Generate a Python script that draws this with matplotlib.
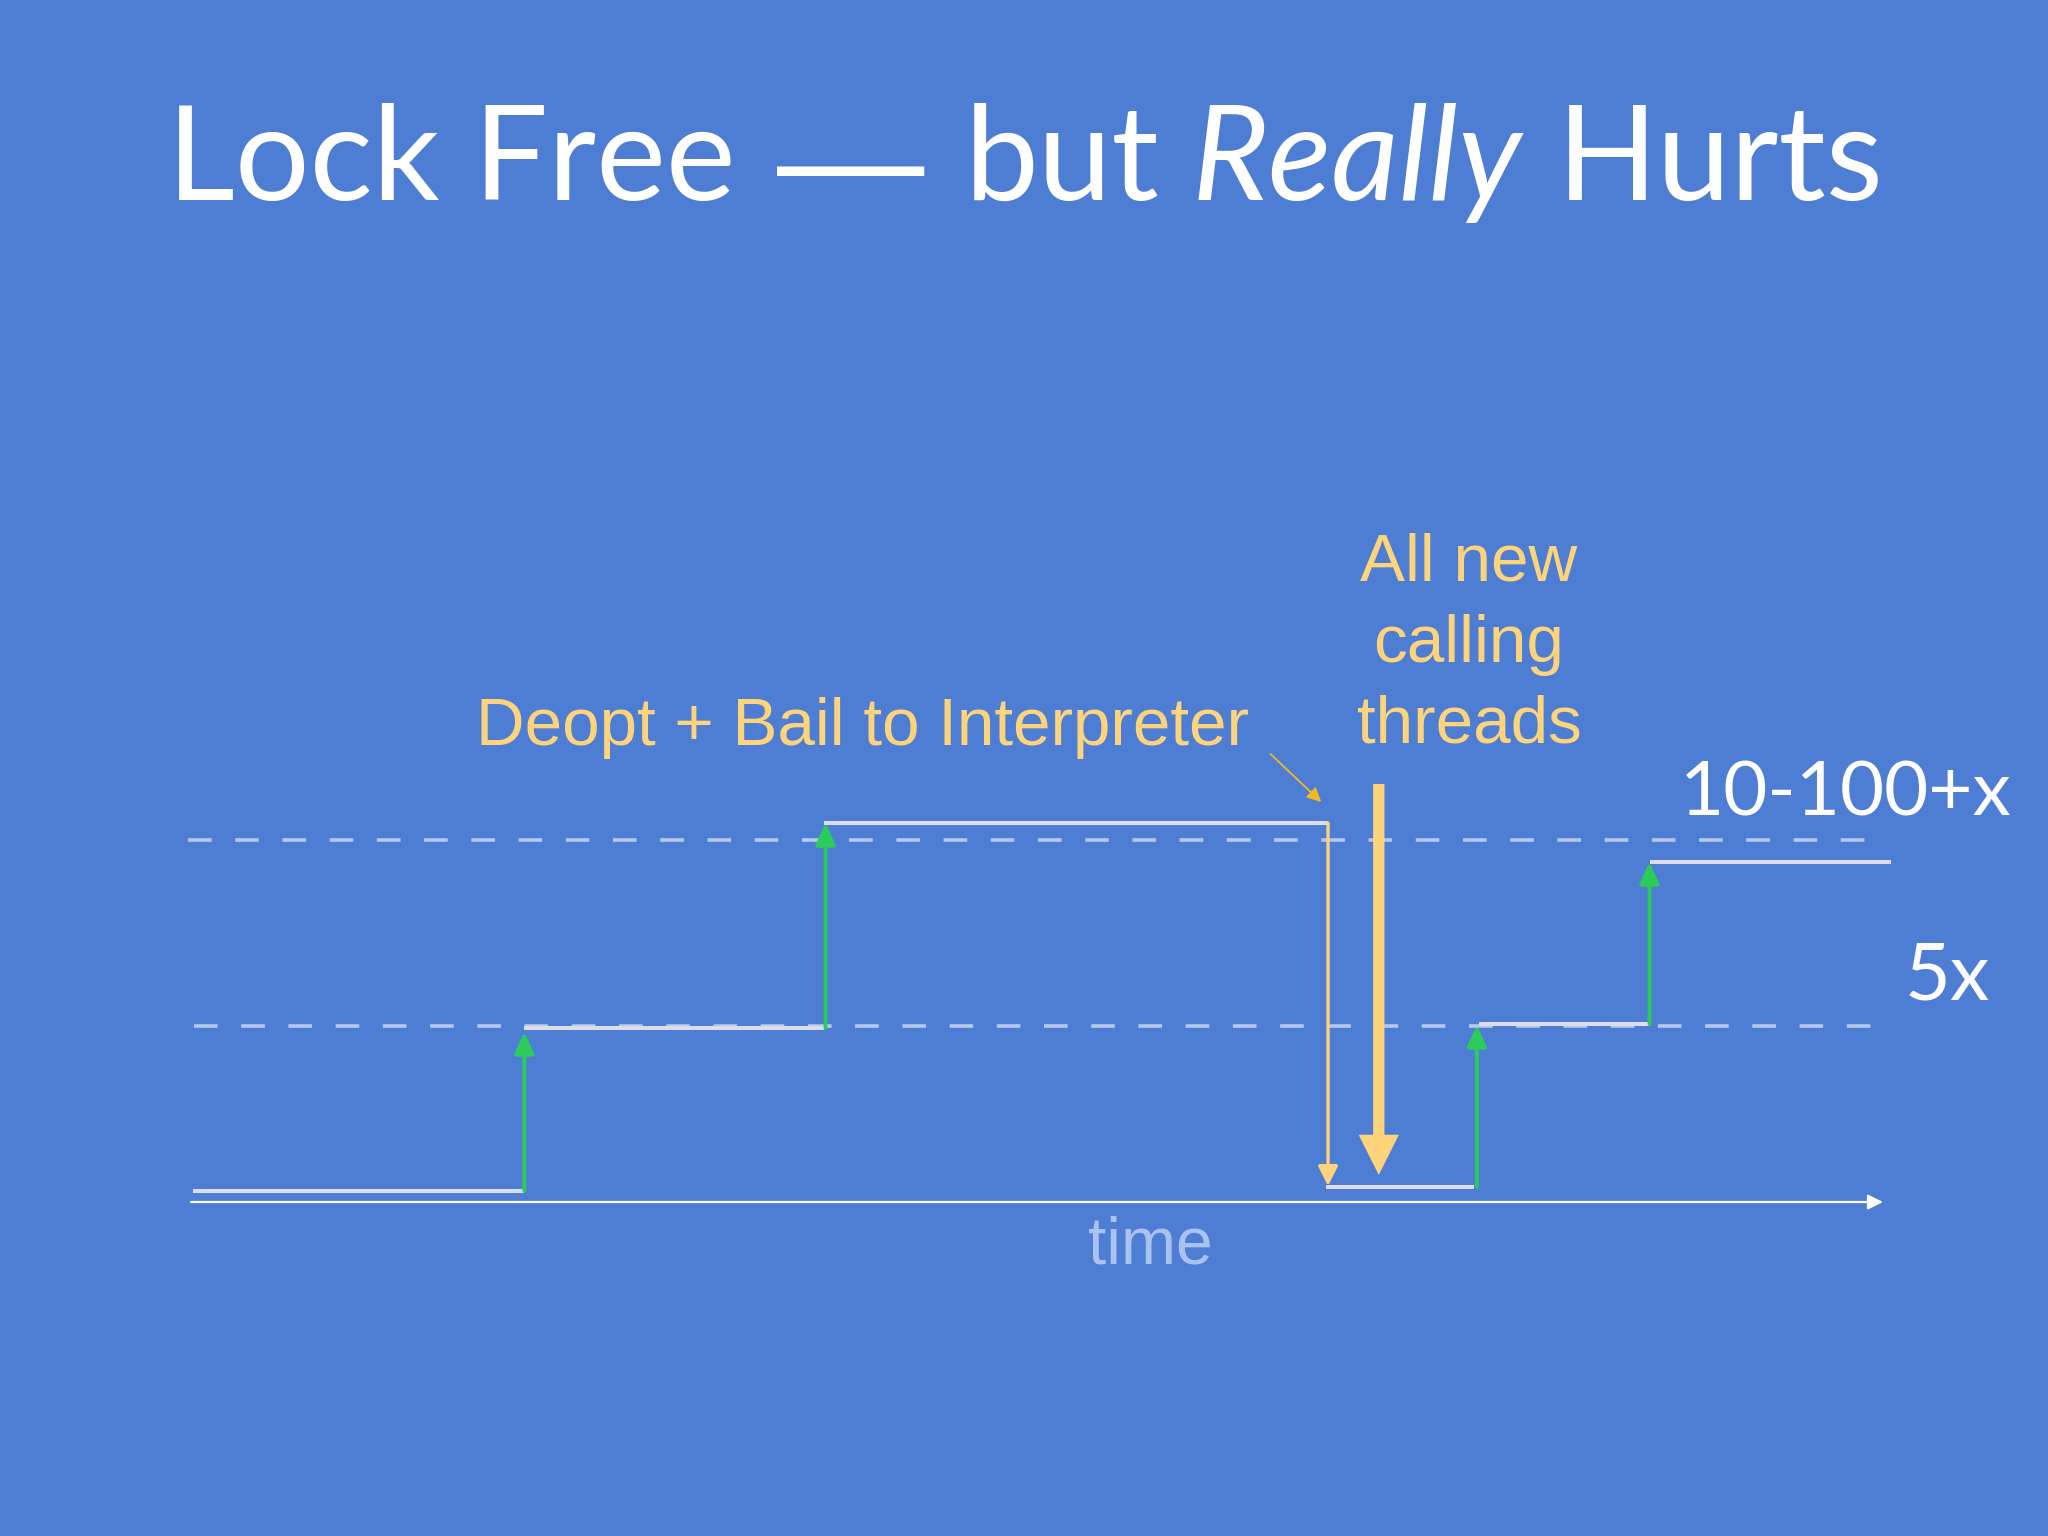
import matplotlib
matplotlib.use("Agg")
import matplotlib.pyplot as plt

# ---------------- data ----------------
# step segments of the "cost" trace (time units 0..100, level units)
seg_t0 = [0.1, 19.7, 37.4, 67.1, 76.1, 86.2]
seg_t1 = [19.7, 37.4, 67.2, 75.8, 86.2, 100.5]
seg_level = [1.1, 17.4, 37.9, 1.5, 17.8, 34.0]

# green "step up" arrows
up_t = [19.7, 37.5, 76.0, 86.2]
up_from = [1.1, 17.4, 1.5, 17.8]
up_to = [17.0, 37.9, 17.7, 34.0]

# dashed reference levels (10-100+x, 5x)
ref_levels = [36.2, 17.6]
ref_t0 = [-0.2, 0.2]
ref_t1 = [99.9, 99.9]
ref_labels = ["10-100+x", "5x"]

# yellow drops
drop_t = [67.2]
drop_from = [37.9]
drop_to = [1.6]
big_drop_t = [70.2]
big_drop_from = [41.8]
big_drop_to = [2.7]
pointer_from = (63.8, 44.8)
pointer_to = (66.8, 40.0)

title_words = ["Lock Free", "—", "but", "Really", "Hurts"]
title_italic = [False, False, False, True, False]
deopt_label = "Deopt + Bail to Interpreter"
threads_label = ["All new", "calling", "threads"]
axis_label = "time"

# ---------------- style ----------------
BG = "#4e7dd4"
STEP = "#dcdde8"
DASH = "#b6c8ee"
GREEN = "#2bcb5c"
YEL = "#fdd47c"
ORANGE = "#f2b824"
W, H = 2048, 1536
DPI = 100

plt.rcParams["lines.scale_dashes"] = False
fig = plt.figure(figsize=(W / DPI, H / DPI), dpi=DPI, facecolor=BG)
ax = fig.add_axes([0, 0, 1, 1])
ax.set_facecolor(BG)
ax.set_axis_off()
# x: time 0 at 191 px, 100 at 1883 px ; y: 0 at 1202 px from top, 10 px per unit
xs = (1883 - 191) / 100.0
ax.set_xlim(-191 / xs, (W - 191) / xs)
ax.set_ylim(-(H - 1202) / 10.0, 1202 / 10.0)

# dashed reference lines
for lv, a, b in zip(ref_levels, ref_t0, ref_t1):
    ax.plot([a, b], [lv, lv], color=DASH, lw=2.6, dashes=(17, 17), solid_capstyle="butt", zorder=1)

# time axis
ax.annotate("", xy=(100, 0), xytext=(0, 0),
            arrowprops=dict(arrowstyle="-|>,head_length=0.5,head_width=0.25", mutation_scale=18,
                            lw=1.6, color="white", shrinkA=0, shrinkB=0), zorder=2)

# step trace
for a, b, lv in zip(seg_t0, seg_t1, seg_level):
    ax.plot([a, b], [lv, lv], color=STEP, lw=2.9, solid_capstyle="butt", zorder=3)

# green up arrows
for t, a, b in zip(up_t, up_from, up_to):
    ax.annotate("", xy=(t, b), xytext=(t, a),
                arrowprops=dict(arrowstyle="-|>,head_length=0.65,head_width=0.3", mutation_scale=20,
                                lw=2.8, color=GREEN, shrinkA=0, shrinkB=0), zorder=4)

# thin yellow drop
for t, a, b in zip(drop_t, drop_from, drop_to):
    ax.annotate("", xy=(t, b), xytext=(t, a),
                arrowprops=dict(arrowstyle="-|>,head_length=0.6,head_width=0.3", mutation_scale=20,
                                lw=2.4, color=YEL, shrinkA=0, shrinkB=0), zorder=4)

# big yellow drop
for t, a, b in zip(big_drop_t, big_drop_from, big_drop_to):
    ax.annotate("", xy=(t, b), xytext=(t, a),
                arrowprops=dict(arrowstyle="simple,head_length=1.0,head_width=1.0,tail_width=0.28",
                                mutation_scale=29, lw=0, color=YEL, shrinkA=0, shrinkB=0), zorder=4)

# small pointer arrow
ax.annotate("", xy=pointer_to, xytext=pointer_from,
            arrowprops=dict(arrowstyle="-|>,head_length=0.6,head_width=0.3", mutation_scale=14,
                            lw=1.3, color=ORANGE, shrinkA=0, shrinkB=0), zorder=4)

def fx(px):
    return px / W

def fy(py):
    return 1 - py / H

# text labels
sans = ["Liberation Sans", "DejaVu Sans"]
gill = ["Lato", "DejaVu Sans"]
fig.text(fx(863), fy(745), deopt_label, color=YEL, fontsize=48.5, family=sans, ha="center", va="baseline")
for i, line in enumerate(threads_label):
    fig.text(fx(1469), fy(580 + 81.5 * i), line, color=YEL, fontsize=48.5, family=sans,
             ha="center", va="baseline")
fig.text(fx(1150), fy(1263), axis_label, color="#a9c2f0", fontsize=47.5, family=sans,
         ha="center", va="baseline")
fig.text(fx(1846), fy(815), ref_labels[0], color="white", fontsize=55, family=gill, ha="center", va="baseline")
fig.text(fx(1947), fy(999), ref_labels[1], color="white", fontsize=57, family=gill, ha="center", va="baseline")

# title, word by word (italic "Really")
word_cx = [451, 851, 1062, 1357, 1720]
for word, ital, cx in zip(title_words, title_italic, word_cx):
    if word == "—":
        fig.text(fx(cx), fy(208), word, color="white", fontsize=106, family=sans,
                 ha="center", va="baseline")
    else:
        fig.text(fx(cx), fy(200), word, color="white", fontsize=95, family=gill,
                 style="italic" if ital else "normal", ha="center", va="baseline")

fig.savefig("out.png", dpi=DPI, facecolor=BG)
